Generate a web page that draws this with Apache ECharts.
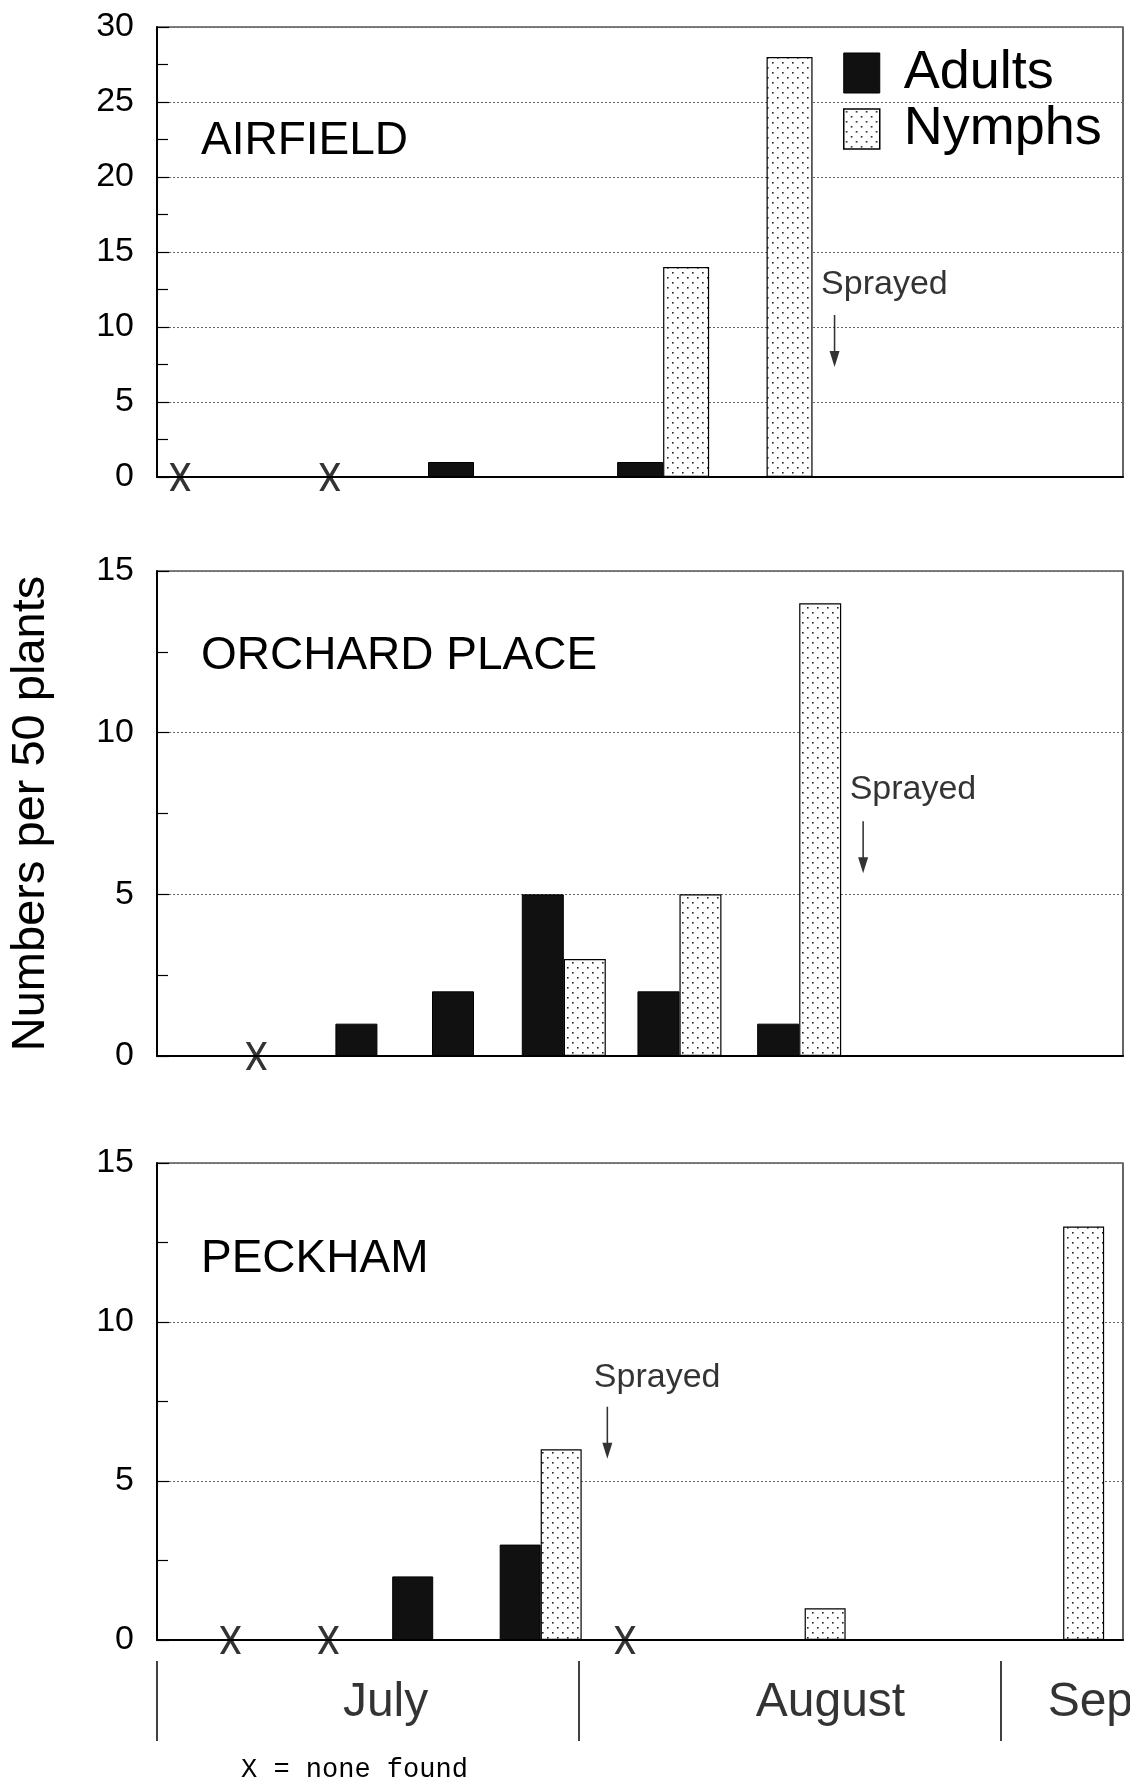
<!DOCTYPE html>
<html>
<head>
    <meta charset="utf-8">
    <title>Numbers per 50 plants</title>
    <script src="https://cdn.jsdelivr.net/npm/echarts@6/dist/echarts.min.js"></script>
</head>
<style>
    html, body, #main {
        width: 1130px;
        height: 1784px;
        margin: 0;
        background: #fff;
    }
</style>
<body>
<div id='main'></div>
<script>
    // days counted from 1 July (July = 0..31, August = 31..62, September from 62)
    var airfieldDays = [1.7, 12.7, 23.3, 37.2, 44.8];
    var airfieldAdults = [0, 0, 1, 1, 0];
    var airfieldNymphs = [0, 0, 0, 14, 28];

    var orchardDays = [7.3, 16.2, 23.3, 29.9, 38.4, 47.2];
    var orchardAdults = [0, 1, 2, 5, 2, 1];
    var orchardNymphs = [0, 0, 0, 3, 5, 14];

    var peckhamDays = [5.4, 12.6, 20.3, 28.2, 34.4, 47.6, 66.6];
    var peckhamAdults = [0, 0, 2, 3, 0, 0, 0];
    var peckhamNymphs = [0, 0, 0, 6, 0, 1, 13];

    var panelNames = ['AIRFIELD', 'ORCHARD PLACE', 'PECKHAM'];
    var panelMax = [30, 15, 15];
    var sprayDays = [49.8, 51.9, 33.1];
    var sprayTextValue = [12.8, 8.23, 8.24];
    var sprayArrowValue = [9.07, 6.46, 6.52];

    var months = ['July', 'August', 'Sep'];
    var monthLabelDays = [16.8, 49.5, 68.6];
    var dayMax = 71;

    var FONT = 'Liberation Sans, Arial, sans-serif';

    // dotted fill for the nymph bars
    var dots = document.createElement('canvas');
    dots.width = 10;
    dots.height = 10;
    var dctx = dots.getContext('2d');
    dctx.fillStyle = '#fff';
    dctx.fillRect(0, 0, 10, 10);
    dctx.fillStyle = '#222';
    dctx.fillRect(2, 2, 1.6, 1.6);
    dctx.fillRect(7, 7, 1.6, 1.6);
    var nymphFill = {image: dots, repeat: 'repeat'};

    var grids = [
        {left: 157, top: 27, width: 966, height: 450},
        {left: 157, top: 571, width: 966, height: 485},
        {left: 157, top: 1163, width: 966, height: 477}
    ];
    var barWidths = [46, 42, 41];

    var panels = [
        {days: airfieldDays, adults: airfieldAdults, nymphs: airfieldNymphs},
        {days: orchardDays, adults: orchardAdults, nymphs: orchardNymphs},
        {days: peckhamDays, adults: peckhamAdults, nymphs: peckhamNymphs}
    ];

    var xMarkPath = 'path://M0,0 L4,0 L10,10.5 L16,0 L20,0 L12.2,13.5 L20,27 L16,27 L10,16.5 L4,27 L0,27 L7.8,13.5 Z';
    var arrowPath = 'path://M4.3,0 L5.7,0 L5.7,36 L9.5,36 L5,52 L0.5,36 L4.3,36 Z';

    var gridList = [];
    var xAxes = [];
    var yAxes = [];
    var series = [];
    var titles = [];

    panels.forEach(function (p, i) {
        gridList.push({
            left: grids[i].left, top: grids[i].top, width: grids[i].width, height: grids[i].height,
            show: true, borderColor: '#000', borderWidth: 1.2, backgroundColor: 'transparent'
        });
        xAxes.push({
            gridIndex: i, type: 'value', min: 0, max: dayMax,
            axisLine: {show: true, onZero: false, lineStyle: {color: '#000', width: 2}},
            axisTick: {show: false}, axisLabel: {show: false}, splitLine: {show: false}
        });
        var yA = {
            gridIndex: i, type: 'value', min: 0, max: panelMax[i], interval: 5,
            axisLine: {show: true, lineStyle: {color: '#000', width: 2}},
            axisTick: {show: true, inside: true, length: 12, lineStyle: {color: '#000', width: 1.2}},
            minorTick: {show: true, splitNumber: 2, length: 11, lineStyle: {color: '#000', width: 1.2}},
            axisLabel: {color: '#000', fontSize: 34, fontFamily: FONT, margin: 23},
            splitLine: {show: true, lineStyle: {color: '#666', width: 1, type: [2, 2]}}
        };
        if (i === 1) {
            yA.name = 'Numbers per 50 plants';
            yA.nameLocation = 'middle';
            yA.nameGap = 102;
            yA.nameTextStyle = {color: '#000', fontSize: 47, fontFamily: FONT};
        }
        yAxes.push(yA);

        var adultData = [], nymphData = [], noneData = [];
        p.days.forEach(function (d, k) {
            if (p.adults[k] > 0) adultData.push([d, p.adults[k]]);
            if (p.nymphs[k] > 0) nymphData.push([d, p.nymphs[k]]);
            if (p.adults[k] === 0 && p.nymphs[k] === 0) noneData.push([d, 0]);
        });

        series.push({
            name: 'Adults', type: 'bar', xAxisIndex: i, yAxisIndex: i,
            barWidth: barWidths[i], barGap: '0%',
            itemStyle: {color: '#111', borderColor: '#000', borderWidth: 1},
            data: adultData
        });
        series.push({
            name: 'Nymphs', type: 'bar', xAxisIndex: i, yAxisIndex: i,
            barWidth: barWidths[i], barGap: '0%',
            itemStyle: {color: nymphFill, borderColor: '#000', borderWidth: 1.2},
            data: nymphData
        });
        series.push({
            name: 'none found', type: 'scatter', xAxisIndex: i, yAxisIndex: i,
            symbol: xMarkPath, symbolSize: [21, 28], z: 5,
            itemStyle: {color: '#000'},
            data: noneData
        });
        // "Sprayed" note and arrow
        series.push({
            name: 'sprayed-text', type: 'scatter', xAxisIndex: i, yAxisIndex: i,
            symbolSize: 1, itemStyle: {color: 'transparent'},
            label: {
                show: true, position: 'right', distance: 0, offset: [-14, 0],
                formatter: 'Sprayed', color: '#000', fontSize: 34, fontFamily: FONT
            },
            data: [[sprayDays[i], sprayTextValue[i]]]
        });
        series.push({
            name: 'sprayed-arrow', type: 'scatter', xAxisIndex: i, yAxisIndex: i,
            symbol: arrowPath, symbolSize: [10, 52],
            itemStyle: {color: '#000'},
            data: [[sprayDays[i], sprayArrowValue[i]]]
        });

        titles.push({
            text: panelNames[i], left: 201, top: [118, 633, 1236][i], padding: 0,
            textStyle: {color: '#000', fontSize: 46, fontWeight: 'normal', fontFamily: FONT}
        });
    });

    // month strip under the last panel
    gridList.push({left: 157, top: 1661, width: 966, height: 80});
    xAxes.push({
        gridIndex: 3, type: 'value', min: 0, max: dayMax, interval: 31,
        axisLine: {show: false}, axisTick: {show: false}, axisLabel: {show: false},
        splitLine: {show: true, showMinLine: true, showMaxLine: false, lineStyle: {color: '#000', width: 1.5, type: 'solid'}}
    });
    yAxes.push({gridIndex: 3, type: 'value', min: 0, max: 1, show: false});
    series.push({
        name: 'months', type: 'scatter', xAxisIndex: 3, yAxisIndex: 3,
        symbolSize: 1, itemStyle: {color: 'transparent'},
        label: {
            show: true, position: 'inside', color: '#000', fontSize: 48, fontFamily: FONT,
            formatter: function (p) { return months[p.dataIndex]; }
        },
        data: monthLabelDays.map(function (d) { return [d, 0.48]; })
    });

    var chart = echarts.init(document.getElementById('main'));
    var option = {
        animation: false,
        backgroundColor: '#fff',
        title: titles,
        legend: {
            orient: 'vertical', left: 843, top: 46, padding: 0,
            itemWidth: 36, itemHeight: 40, itemGap: 2,
            textStyle: {color: '#000', fontSize: 54, fontFamily: FONT, padding: [0, 0, 0, 19]},
            data: [
                {name: 'Adults', icon: 'rect', itemStyle: {color: '#111', borderColor: '#000', borderWidth: 1}},
                {name: 'Nymphs', icon: 'rect', itemStyle: {color: nymphFill, borderColor: '#000', borderWidth: 1.5}}
            ]
        },
        grid: gridList,
        xAxis: xAxes,
        yAxis: yAxes,
        series: series,
        graphic: [{
            type: 'text', left: 241, top: 1756,
            style: {text: 'X = none found', fill: '#000', fontSize: 27, fontFamily: 'Liberation Mono, monospace'}
        }]
    };
    chart.setOption(option);
</script>
</body>
</html>
